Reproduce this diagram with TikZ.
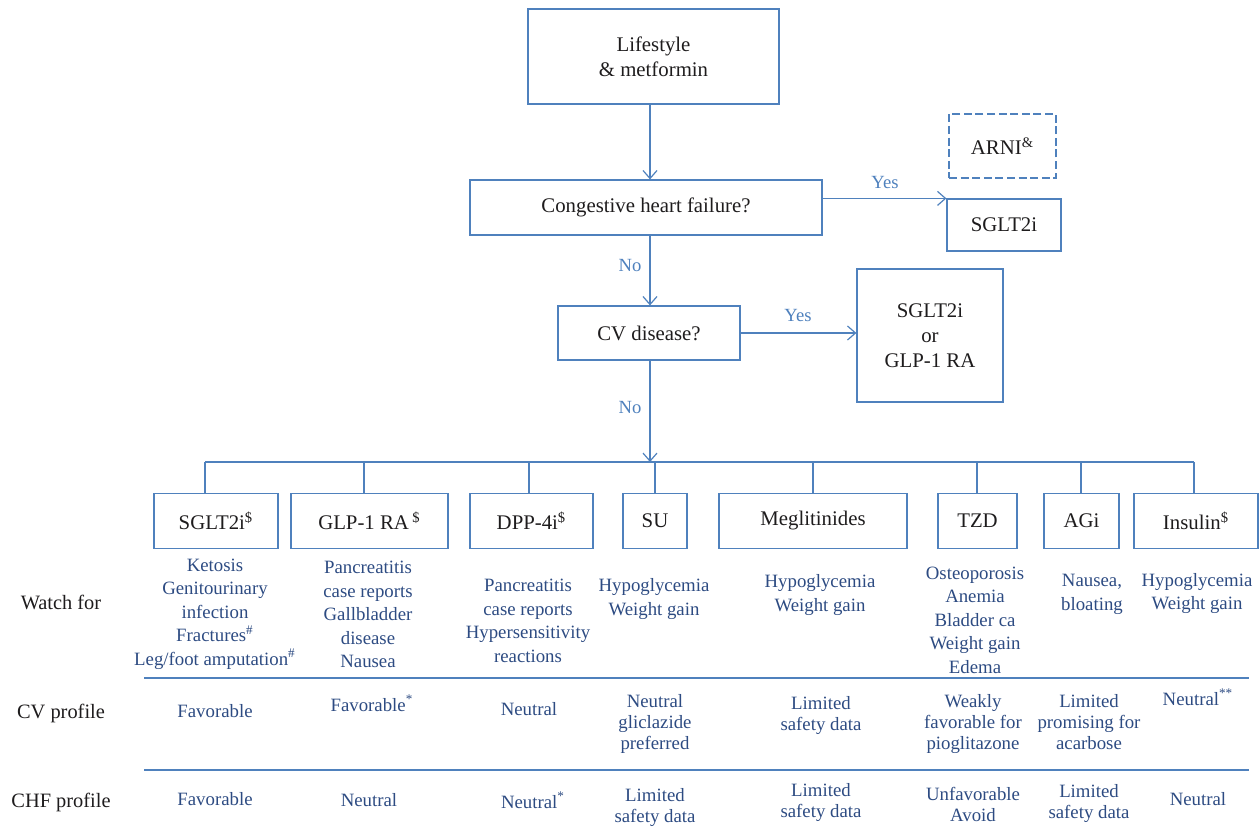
\documentclass[tikz,border=0pt]{standalone}
\usepackage{fontspec}
\setmainfont{Liberation Serif}
\usetikzlibrary{%
    arrows.meta,
    positioning
}

\definecolor{lineblue}{RGB}{79,129,189}
\definecolor{textblue}{RGB}{45,75,130}
\definecolor{textblack}{RGB}{30,28,29}
\newcommand\boxfont{\fontsize{10.4}{12.5}\selectfont}
\newcommand\labelfont{\fontsize{10.2}{12.5}\selectfont}
\newcommand\watchfont{\fontsize{9.4}{11.75}\selectfont}
\newcommand\profilefont{\fontsize{9.4}{10.5}\selectfont}
\newcommand\answerfont{\fontsize{9.3}{11}\selectfont}

\begin{document}
\begin{tikzpicture}[x=0.5pt,y=-0.5pt,
        box/.style={draw=lineblue, line width=.6pt, text=textblack,
                    font=\boxfont, align=center, inner sep=0pt},
        link/.style={draw=lineblue, line width=.6pt},
        arrow/.style={link, -{Straight Barb[length=4pt,width=7pt]}},
        answer/.style={text=lineblue, font=\answerfont, inner sep=0pt},
        watch/.style={text=textblue, font=\watchfont, align=center, inner sep=0pt},
        profile/.style={text=textblue, font=\profilefont, align=center, inner sep=0pt},
        rowlabel/.style={text=textblack, font=\labelfont, inner sep=0pt}
    ]
    \useasboundingbox (0,0) rectangle (1259,829);

    % decision part
    \node[box, minimum width=125.5pt, minimum height=47.5pt] (life)   at (653.5,56.5) {Lifestyle\\\& metformin};
    \node[box, minimum width=176pt,   minimum height=27.5pt] (chf)    at (646,207.5)  {Congestive heart failure?};
    \node[box, dashed, dash pattern=on 4pt off 1.8pt,
          minimum width=53.5pt, minimum height=32pt]         (arni)   at (1002.5,146) {ARNI\textsuperscript{\&}};
    \node[box, minimum width=57pt,    minimum height=26pt]   (hfdrug) at (1004,225)   {SGLT2i};
    \node[box, minimum width=91pt,    minimum height=27pt]   (cvd)    at (649,333)    {CV disease?};
    \node[box, minimum width=73pt,    minimum height=66.5pt] (cvdrug) at (930,335.5)  {SGLT2i\\or\\GLP-1 RA};

    \coordinate (trunk) at (650,462);

    \draw[arrow] (life.south -| trunk) -- (chf.north -| trunk);
    \draw[arrow] (chf.east |- hfdrug.north) -- (hfdrug.north west);
    \draw[arrow] (chf.south -| trunk) -- (cvd.north -| trunk);
    \draw[arrow] (cvd.east) -- (cvd.east -| cvdrug.west);
    \draw[arrow] (cvd.south -| trunk) -- (trunk);

    \node[answer] (yes-hf) at (885,183) {Yes};
    \node[answer] (no-hf)  at (630,266) {No};
    \node[answer] (yes-cv) at (798,315) {Yes};
    \node[answer] (no-cv)  at (630,407) {No};

    % drug classes
    \foreach \Name/\X/\W/\Drop/\Label in {%
        sgl/216/62pt/205/{SGLT2i\textsuperscript{\$}},
        glp/369.5/78.5pt/364/{GLP-1 RA\,\textsuperscript{\$}},
        dpp/531.5/61.5pt/529/{DPP-4i\textsuperscript{\$}},
        su/655/32pt/655/{SU},
        meg/813/94pt/813/{Meglitinides},
        tzd/977.5/39.5pt/977/{TZD},
        agi/1081.5/37.5pt/1081/{AGi},
        ins/1196/62pt/1194/{Insulin\textsuperscript{\$}}%
        }
    {
        \node[box, minimum width=\W, minimum height=27.5pt] (\Name) at (\X,521) {\Label};
        \coordinate (bar-\Name) at (\Drop,462);
        \draw[link] (bar-\Name) -- (bar-\Name |- \Name.north);
    }
    \draw[link] (bar-sgl) -- (bar-ins);

    % watch for
    \foreach \Name/\X/\Y/\Text in {%
        sgl/215/614/{Ketosis\\Genitourinary\\infection\\Fractures\textsuperscript{\#}\\Leg/foot amputation\textsuperscript{\#}},
        glp/368/614.5/{Pancreatitis\\case reports\\Gallbladder\\disease\\Nausea},
        dpp/528/621/{Pancreatitis\\case reports\\Hypersensitivity\\reactions},
        su/654/599/{Hypoglycemia\\Weight gain},
        meg/820/595/{Hypoglycemia\\Weight gain},
        tzd/975/620/{Osteoporosis\\Anemia\\Bladder ca\\Weight gain\\Edema},
        agi/1092/594.5/{Nausea,\\bloating},
        ins/1197/593.5/{Hypoglycemia\\Weight gain}%
        }
        \node[watch] (watch-\Name) at (\X,\Y) {\Text};

    \draw[link] (144,678) -- (1249,678);
    \draw[link] (144,770) -- (1249,770);

    % CV profile
    \foreach \Name/\X/\Y/\Text in {%
        sgl/215/711/{Favorable},
        glp/372/703/{Favorable\textsuperscript{*}},
        dpp/529/709/{Neutral},
        su/655/724/{Neutral\\gliclazide\\preferred},
        meg/821/715.5/{Limited\\safety data},
        tzd/973/724/{Weakly\\favorable for\\pioglitazone},
        agi/1089/722/{Limited\\promising for\\acarbose},
        ins/1198/697/{Neutral\textsuperscript{**}}%
        }
        \node[profile] (cvp-\Name) at (\X,\Y) {\Text};

    % CHF profile
    \foreach \Name/\X/\Y/\Text in {%
        sgl/215/799/{Favorable},
        glp/369/800/{Neutral},
        dpp/533/800/{Neutral\textsuperscript{*}},
        su/655/807.5/{Limited\\safety data},
        meg/821/803/{Limited\\safety data},
        tzd/973/804/{Unfavorable\\Avoid},
        agi/1089/803.5/{Limited\\safety data},
        ins/1198/799/{Neutral}%
        }
        \node[profile] (hfp-\Name) at (\X,\Y) {\Text};

    \node[rowlabel] (watch-label) at (61,602) {Watch for};
    \node[rowlabel] (cv-label)    at (61,713) {CV profile};
    \node[rowlabel] (hf-label)    at (61,802) {CHF profile};
\end{tikzpicture}
\end{document}
